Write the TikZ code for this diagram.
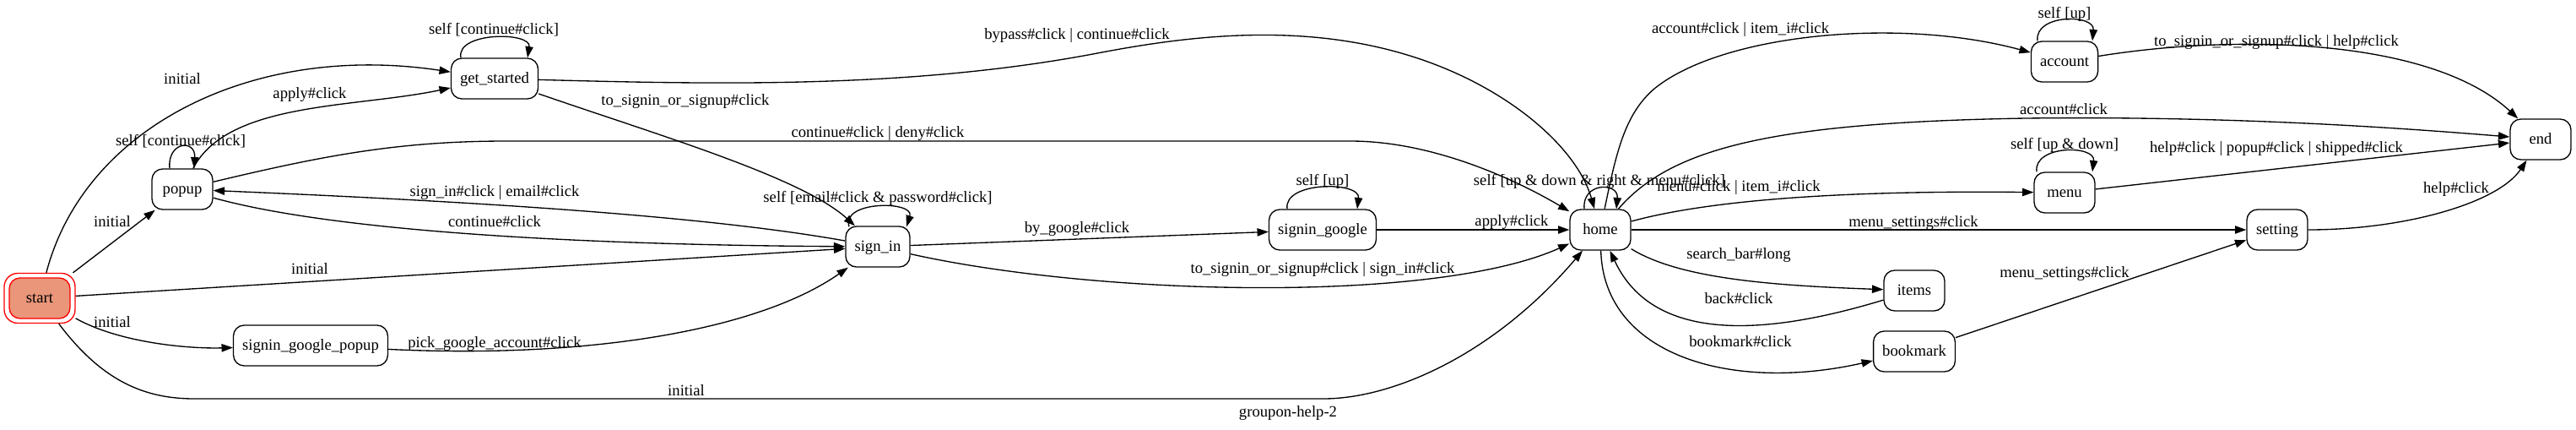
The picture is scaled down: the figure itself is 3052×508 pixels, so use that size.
\documentclass[tikz,border=0pt]{standalone}
\usepackage{fontspec}
\setmainfont{Liberation Serif}
\usetikzlibrary{arrows.meta,calc}
\definecolor{salmonfill}{RGB}{233,150,122}
\begin{document}
\begin{tikzpicture}[x=0.75pt,y=-0.75pt,
  stbox/.style={draw, line width=1pt, rounded corners=9.5pt, minimum width=54pt, minimum height=36pt,
    inner xsep=7.92pt, inner ysep=0pt, text height=11.6pt, text depth=3pt, font=\fontsize{14}{16}\selectfont},
  startin/.style={stbox, draw=red, fill=salmonfill},
  startout/.style={draw=red, line width=1pt, rounded corners=12pt, minimum width=63pt, minimum height=44.25pt, inner sep=0pt},
  conn/.style={line width=1pt, -{Triangle[length=10pt,width=7pt]}},
  lbl/.style={inner sep=0pt, anchor=base, yshift=-4.5pt, font=\fontsize{14}{16}\selectfont},
]
\path[fill=white] (0,0) rectangle (3052,508);
\useasboundingbox (0,0) rectangle (3052,508);

% nodes
\node[startout] (start) at (47,353) {};
\node[startin] (startlabel) at (start.center) {start};
\node[stbox] (popup) at (216,224) {popup};
\node[stbox] (get_started) at (586,93) {get\_started};
\node[stbox] (signin_google_popup) at (368,409) {signin\_google\_popup};
\node[stbox] (sign_in) at (1040,292) {sign\_in};
\node[stbox] (signin_google) at (1567,272) {signin\_google};
\node[stbox] (home) at (1896,272) {home};
\node[stbox] (account) at (2446,73) {account};
\node[stbox] (menu) at (2446,228) {menu};
\node[stbox] (items) at (2268,344) {items};
\node[stbox] (bookmark) at (2268,416) {bookmark};
\node[stbox] (setting) at (2698,272) {setting};
\node[stbox] (end) at (3010,165) {end};

% edges from start
\draw[conn] (start) .. controls (100,150) and (300,50) .. (get_started) node[lbl] (l1) at (216,93) {initial};
\draw[conn] (start) -- (popup) node[lbl] (l5) at (133,262) {initial};
\draw[conn] (start) -- (sign_in) node[lbl] (l9) at (367,318) {initial};
\draw[conn] (start) .. controls (140,405) and (220,413) .. (signin_google_popup) node[lbl] (l10) at (133,381) {initial};
\draw[conn] (start) .. controls (120,450) and (170,472) .. (230,472) -- (1568,472) .. controls (1650,472) and (1770,420) .. (home) node[lbl] (l12) at (813,462) {initial};

% popup
\draw[conn] (popup) .. controls (270,120) and (420,128) .. (get_started) node[lbl] (l2) at (367,110) {apply\#click};
\draw[conn] ($(popup.north)+(-15,0)$) .. controls ($(popup.north)+(-18,-32)$) and ($(popup.north)+(16,-35)$) .. ($(popup.north)+(14,0)$) node[lbl] (l3) at (214,166) {self [continue\#click]};
\draw[conn] (popup) .. controls (380,185) and (470,167) .. (600,167) -- (1600,167) .. controls (1700,167) and (1800,215) .. (home) node[lbl] (l6) at (1040,156) {continue\#click | deny\#click};
\draw[conn] (popup) .. controls (400,275) and (700,290) .. (sign_in) node[lbl] (l8) at (586,262) {continue\#click};

% get_started
\draw[conn] ($(get_started.north)+(-40,0)$) .. controls ($(get_started.north)+(-46,-31)$) and ($(get_started.north)+(44,-31)$) .. ($(get_started.north)+(39,0)$) node[lbl] (l4) at (585,34) {self [continue\#click]};
\draw[conn] (get_started) .. controls (850,100) and (1080,105) .. (1300,63) .. controls (1410,42) and (1560,22) .. (1702,77) .. controls (1800,115) and (1870,180) .. (home) node[lbl] (l13) at (1276,40) {bypass\#click | continue\#click};
\draw[conn] (get_started) .. controls (780,160) and (950,210) .. (sign_in) node[lbl] (l14) at (812,118) {to\_signin\_or\_signup\#click};

% signin_google_popup
\draw[conn] (signin_google_popup) .. controls (700,425) and (900,390) .. (sign_in) node[lbl] (l11) at (586,405) {pick\_google\_account\#click};

% sign_in
\draw[conn] (sign_in) .. controls (850,258) and (600,240) .. (popup) node[lbl] (l7) at (586,226) {sign\_in\#click | email\#click};
\draw[conn] ($(sign_in.north)+(-34,1)$) .. controls ($(sign_in.north)+(-44,-30)$) and ($(sign_in.north)+(44,-30)$) .. ($(sign_in.north)+(34,1)$) node[lbl] (l15) at (1040,233) {self [email\#click \& password\#click]};
\draw[conn] (sign_in) -- (signin_google) node[lbl] (l16) at (1276,269) {by\_google\#click};
\draw[conn] (sign_in) .. controls (1300,350) and (1700,360) .. (home) node[lbl] (l17) at (1567,317) {to\_signin\_or\_signup\#click | sign\_in\#click};

% signin_google
\draw[conn] ($(signin_google.north)+(-42,0)$) .. controls ($(signin_google.north)+(-47,-33)$) and ($(signin_google.north)+(45,-33)$) .. ($(signin_google.north)+(41,0)$) node[lbl] (l18) at (1567,213) {self [up]};
\draw[conn] (signin_google) -- (home) node[lbl] (l19) at (1791,261) {apply\#click};

% home
\draw[conn] ($(home.north)+(-19,0)$) .. controls ($(home.north)+(-22,-32)$) and ($(home.north)+(22,-32)$) .. ($(home.north)+(19,0)$) node[lbl] (l20) at (1895,213) {self [up \& down \& right \& menu\#click]};
\draw[conn] (home) .. controls (1980,175) and (2100,145) .. (2400,140) .. controls (2650,137) and (2850,152) .. (end) node[lbl] (l21) at (2445,129) {account\#click};
\draw[conn] (home) .. controls (1915,180) and (1925,135) .. (1960,105) .. controls (2040,40) and (2250,20) .. (account) node[lbl] (l22) at (2062,33) {account\#click | item\_i\#click};
\draw[conn] (home) .. controls (2050,230) and (2250,226) .. (menu) node[lbl] (l25) at (2060,220) {menu\#click | item\_i\#click};
\draw[conn] (home) -- (setting) node[lbl] (l28) at (2267,262) {menu\_settings\#click};
\draw[conn] (home) .. controls (1990,330) and (2100,338) .. (items) node[lbl] (l30) at (2060,300) {search\_bar\#long};
\draw[conn] (home) .. controls (1900,420) and (2050,465) .. (bookmark) node[lbl] (l32) at (2062,404) {bookmark\#click};

% items, bookmark
\draw[conn] (items) .. controls (2100,395) and (1960,410) .. (home) node[lbl] (l31) at (2060,353) {back\#click};
\draw[conn] (bookmark) -- (setting) node[lbl] (l33) at (2446,322) {menu\_settings\#click};

% account, menu, setting
\draw[conn] ($(account.north)+(-32,0)$) .. controls ($(account.north)+(-36,-32)$) and ($(account.north)+(36,-32)$) .. ($(account.north)+(33,0)$) node[lbl] (l23) at (2446,15) {self [up]};
\draw[conn] (account) .. controls (2650,40) and (2880,45) .. (end) node[lbl] (l24) at (2697,48) {to\_signin\_or\_signup\#click | help\#click};
\draw[conn] ($(menu.north)+(-33,0)$) .. controls ($(menu.north)+(-37,-32)$) and ($(menu.north)+(37,-32)$) .. ($(menu.north)+(33,0)$) node[lbl] (l26) at (2446,170) {self [up \& down]};
\draw[conn] (menu) -- (end) node[lbl] (l27) at (2697,174) {help\#click | popup\#click | shipped\#click};
\draw[conn] (setting) .. controls (2850,272) and (2960,240) .. (end) node[lbl] (l29) at (2910,222) {help\#click};

% graph label
\node[lbl] (title) at (1526,487) {groupon-help-2};
\end{tikzpicture}
\end{document}
